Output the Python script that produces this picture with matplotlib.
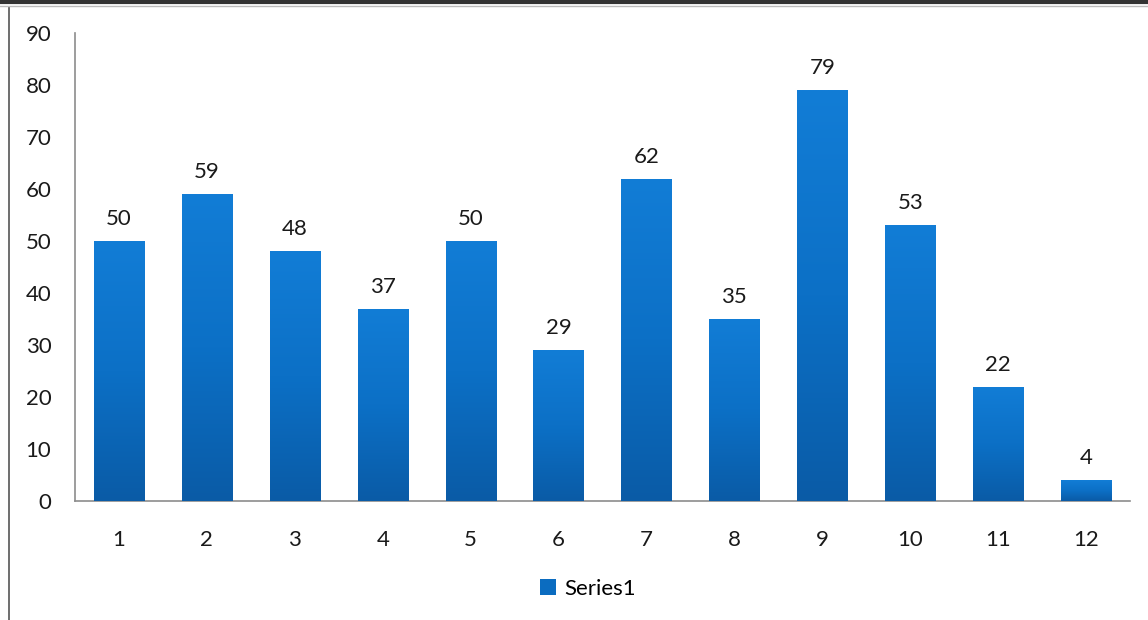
import numpy as np
import matplotlib.pyplot as plt
from matplotlib.lines import Line2D
from matplotlib.patches import Patch
from matplotlib.colors import LinearSegmentedColormap

plt.rcParams['font.family'] = ['Lato', 'DejaVu Sans']

categories = ['1', '2', '3', '4', '5', '6', '7', '8', '9', '10', '11', '12']
values = [50, 59, 48, 37, 50, 29, 62, 35, 79, 53, 22, 4]
yticks = [0, 10, 20, 30, 40, 50, 60, 70, 80, 90]

fig = plt.figure(figsize=(11.48, 6.2), dpi=100)
ax = fig.add_axes([75 / 1148, 1 - 501 / 620, 1055 / 1148, 468 / 620])

x = np.arange(len(categories))
bars = ax.bar(x, values, width=0.57, color='#0b6cc0', zorder=2)

# vertikaler Verlauf in jedem Balken
grad = np.linspace(0, 1, 256).reshape(-1, 1)
cmap = LinearSegmentedColormap.from_list('blau', ['#0a5ba6', '#0c70c6', '#127dd6'])
for b in bars:
    x0, y0 = b.get_x(), b.get_y()
    w, h = b.get_width(), b.get_height()
    im = ax.imshow(grad, extent=[x0, x0 + w, y0, y0 + h], origin='lower',
                   aspect='auto', cmap=cmap, zorder=3)
    im.set_clip_path(b)

for xi, v in zip(x, values):
    ax.text(xi, v + 2.3, str(v), ha='center', va='bottom', fontsize=16, color='#1a1a1a')

ax.set_xlim(-0.5, len(categories) - 0.5)
ax.set_ylim(0, 90)
ax.set_yticks(yticks)
ax.set_xticks(x)
ax.set_xticklabels(categories)
ax.tick_params(axis='both', length=0, labelsize=16, labelcolor='#1a1a1a')
ax.tick_params(axis='y', pad=17)
ax.tick_params(axis='x', pad=21)
for s in ['top', 'right']:
    ax.spines[s].set_visible(False)
ax.spines['left'].set_color('#8c8c8c')
ax.spines['bottom'].set_color('#8c8c8c')
ax.spines['left'].set_linewidth(1.2)
ax.spines['bottom'].set_linewidth(1.2)

handle = Patch(facecolor='#0b6cc0')
fig.legend([handle], ['Series1'], loc='center', bbox_to_anchor=(588 / 1148, 1 - 589 / 620),
           frameon=False, fontsize=16, handlelength=0.7, handleheight=0.7, handletextpad=0.4)

# Rahmen des gescannten Bildes
fig.add_artist(Line2D([0, 1], [1 - 2 / 620, 1 - 2 / 620], color='#333333', lw=3))
fig.add_artist(Line2D([0, 1], [1 - 6 / 620, 1 - 6 / 620], color='#bbbbbb', lw=1))
fig.add_artist(Line2D([9 / 1148, 9 / 1148], [0, 1 - 8 / 620], color='#555555', lw=1.2))

fig.savefig('out.png', dpi=100)
